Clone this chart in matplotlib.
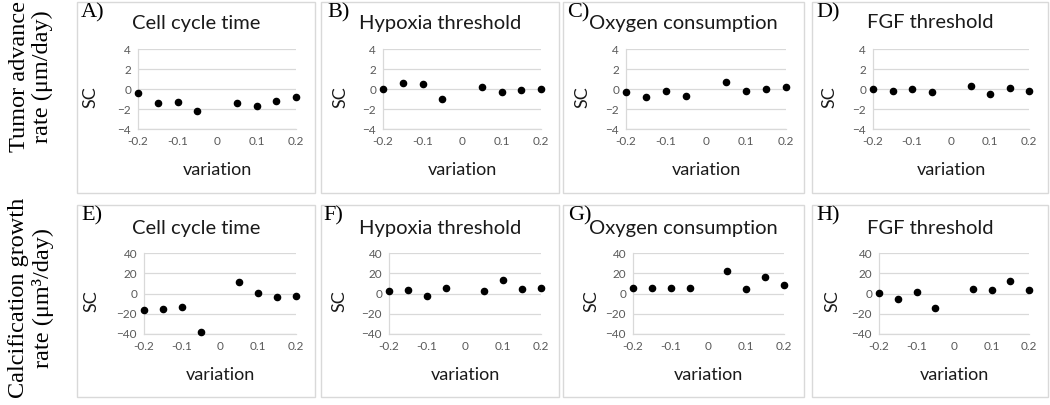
import matplotlib
matplotlib.use("Agg")
import matplotlib.pyplot as plt
from matplotlib.patches import Rectangle

W, H = 1050, 405

# ---- data ----
variation = [-0.2, -0.15, -0.1, -0.05, 0.05, 0.1, 0.15, 0.2]

tumor_cell_cycle = [-0.43, -1.4, -1.27, -2.17, -1.43, -1.67, -1.23, -0.83]
tumor_hypoxia = [0.03, 0.57, 0.53, -1.03, 0.17, -0.33, -0.07, 0.0]
tumor_oxygen = [-0.27, -0.77, -0.17, -0.7, 0.73, -0.2, -0.03, 0.23]
tumor_fgf = [0.0, -0.23, 0.0, -0.3, 0.3, -0.5, 0.1, -0.17]

calc_cell_cycle = [-16.2, -15.5, -13.2, -38.0, 10.9, 0.3, -3.6, -2.6]
calc_hypoxia = [2.6, 3.0, -2.3, 5.0, 2.0, 12.9, 4.3, 5.3]
calc_oxygen = [5.0, 5.0, 5.3, 5.3, 21.8, 4.3, 16.5, 8.6]
calc_fgf = [0.3, -5.6, 1.0, -13.9, 4.3, 3.0, 11.9, 3.0]

titles = ["Cell cycle time", "Hypoxia threshold", "Oxygen consumption", "FGF threshold"]
letters = [["A)", "B)", "C)", "D)"], ["E)", "F)", "G)", "H)"]]
rows = [
    [tumor_cell_cycle, tumor_hypoxia, tumor_oxygen, tumor_fgf],
    [calc_cell_cycle, calc_hypoxia, calc_oxygen, calc_fgf],
]
row_ylim = [(-4, 4), (-40, 40)]
row_yticks = [[-4, -2, 0, 2, 4], [-40, -20, 0, 20, 40]]
xticks = [-0.2, -0.1, 0, 0.1, 0.2]
xtick_labels = ["-0.2", "-0.1", "0", "0.1", "0.2"]
row_labels = ["Tumor advance\nrate (\u03bcm/day)",
              "Calcification growth\nrate (\u03bcm\u00b3/day)"]

# ---- layout in pixels ----
box_x = [(77, 315), (321, 559), (563, 804), (812, 1048)]
box_y = [(2, 193), (205, 397)]
plot_x = [[(138, 296), (383, 541), (626, 786), (873, 1029)],
          [(144, 296), (389, 541), (633, 784), (879, 1029)]]
plot_y = [(49, 129), (253, 334)]
sc_x = [[90, 340, 582, 829], [91, 339, 591, 832]]
sc_y = [97, 301]
title_y = [23, 228]
xlabel_y = [170, 375]
letter_x = [[81, 327, 567, 816], [81, 323, 568, 816]]
letter_y = [3, 206]

GRID = "#d9d9d9"
SANS = ["Lato", "DejaVu Sans"]
SERIF = ["Liberation Serif", "DejaVu Serif"]


def fx(x):
    return x / W


def fy(y):
    return 1 - y / H


fig = plt.figure(figsize=(W / 100, H / 100), dpi=100)

for r in range(2):
    for c in range(4):
        bx0, bx1 = box_x[c]
        by0, by1 = box_y[r]
        fig.patches.append(Rectangle((fx(bx0), fy(by1)), fx(bx1 - bx0), (by1 - by0) / H,
                                     transform=fig.transFigure, fill=False,
                                     edgecolor=GRID, linewidth=1.0))

        px0, px1 = plot_x[r][c]
        py0, py1 = plot_y[r]
        ax = fig.add_axes([fx(px0), fy(py1), fx(px1 - px0), (py1 - py0) / H])
        ax.scatter(variation, rows[r][c], s=20, color="black", zorder=3, clip_on=False)
        ax.set_xlim(-0.2, 0.2)
        ax.set_ylim(*row_ylim[r])
        ax.set_yticks(row_yticks[r])
        ax.set_xticks(xticks)
        ax.set_xticklabels(xtick_labels)
        ax.tick_params(length=0, labelsize=8.5, labelcolor="#595959", pad=5)
        for lab in ax.get_xticklabels() + ax.get_yticklabels():
            lab.set_family(SANS)
        ax.grid(axis="y", color=GRID, linewidth=0.9)
        ax.set_axisbelow(True)
        for side in ["top", "right"]:
            ax.spines[side].set_visible(False)
        for side in ["left", "bottom"]:
            ax.spines[side].set_color(GRID)
            ax.spines[side].set_linewidth(0.9)

        fig.text(fx((bx0 + bx1) / 2), fy(title_y[r]), titles[c], ha="center", va="center",
                 fontsize=14.5, color="#1a1a1a", family=SANS)
        fig.text(fx((px0 + px1) / 2), fy(xlabel_y[r]), "variation", ha="center", va="center",
                 fontsize=13, color="#1a1a1a", family=SANS)
        fig.text(fx(sc_x[r][c]), fy(sc_y[r]), "SC", ha="center", va="center", rotation=90,
                 fontsize=13, color="#1a1a1a", family=SANS)
        fig.text(fx(letter_x[r][c]), fy(letter_y[r]), letters[r][c], ha="left", va="top",
                 fontsize=16, color="black", family=SERIF)

# row labels on the far left
fig.text(fx(31), fy(77), row_labels[0], ha="center", va="center", rotation=90,
         fontsize=17.5, family=SERIF, linespacing=1.15)
fig.text(fx(31), fy(298), row_labels[1], ha="center", va="center", rotation=90,
         fontsize=17.5, family=SERIF, linespacing=1.15)

fig.savefig("out.png", dpi=100)
